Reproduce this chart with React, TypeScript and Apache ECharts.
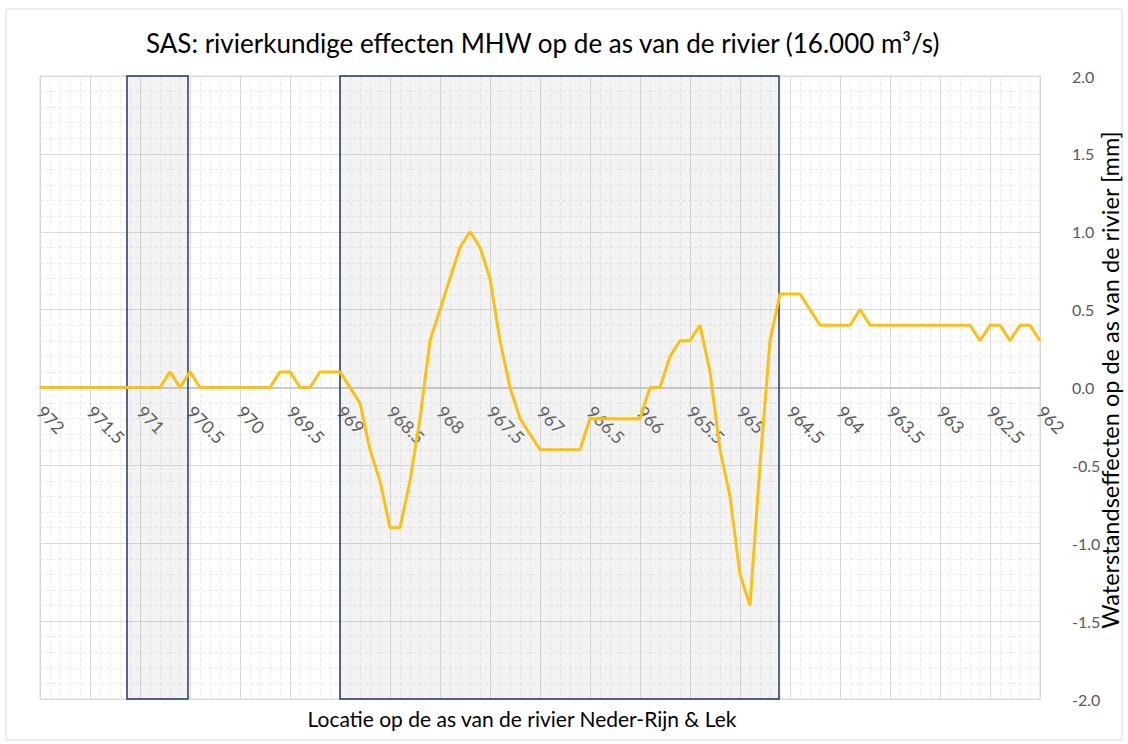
import React, { useEffect, useRef } from "react";
import * as echarts from "echarts";

const titleText = "SAS: rivierkundige effecten MHW op de as van de rivier (16.000 m\u00B3/s)";
const xAxisTitle = "Locatie op de as van de rivier Neder-Rijn & Lek";
const yAxisTitle = "Waterstandseffecten op de as van de rivier [mm]";

const km: number[] = [
  972.0, 971.9, 971.8, 971.7, 971.6, 971.5, 971.4, 971.3, 971.2, 971.1,
  971.0, 970.9, 970.8, 970.7, 970.6, 970.5, 970.4, 970.3, 970.2, 970.1,
  970.0, 969.9, 969.8, 969.7, 969.6, 969.5, 969.4, 969.3, 969.2, 969.1,
  969.0, 968.9, 968.8, 968.7, 968.6, 968.5, 968.4, 968.3, 968.2, 968.1,
  968.0, 967.9, 967.8, 967.7, 967.6, 967.5, 967.4, 967.3, 967.2, 967.1,
  967.0, 966.9, 966.8, 966.7, 966.6, 966.5, 966.4, 966.3, 966.2, 966.1,
  966.0, 965.9, 965.8, 965.7, 965.6, 965.5, 965.4, 965.3, 965.2, 965.1,
  965.0, 964.9, 964.8, 964.7, 964.6, 964.5, 964.4, 964.3, 964.2, 964.1,
  964.0, 963.9, 963.8, 963.7, 963.6, 963.5, 963.4, 963.3, 963.2, 963.1,
  963.0, 962.9, 962.8, 962.7, 962.6, 962.5, 962.4, 962.3, 962.2, 962.1,
  962.0,
];

const effectMm: number[] = [
  0, 0, 0, 0, 0, 0, 0, 0, 0, 0,
  0, 0, 0, 0.1, 0, 0.1, 0, 0, 0, 0,
  0, 0, 0, 0, 0.1, 0.1, 0, 0, 0.1, 0.1,
  0.1, 0.0, -0.1, -0.4, -0.6, -0.9, -0.9, -0.6, -0.2, 0.3,
  0.5, 0.7, 0.9, 1.0, 0.9, 0.7, 0.3, 0.0, -0.2, -0.3,
  -0.4, -0.4, -0.4, -0.4, -0.4, -0.2, -0.2, -0.2, -0.2, -0.2,
  -0.2, 0.0, 0.0, 0.2, 0.3, 0.3, 0.4, 0.1, -0.4, -0.7,
  -1.2, -1.4, -0.5, 0.3, 0.6, 0.6, 0.6, 0.5, 0.4, 0.4,
  0.4, 0.4, 0.5, 0.4, 0.4, 0.4, 0.4, 0.4, 0.4, 0.4,
  0.4, 0.4, 0.4, 0.4, 0.3, 0.4, 0.4, 0.3, 0.4, 0.4,
  0.3,
];

// highlighted river sections [from km, to km]
const sections: [number, number][] = [
  [971.13, 970.52],
  [969.0, 964.61],
];

export default function App() {
  const ref = useRef<HTMLDivElement>(null);
  useEffect(() => {
    if (!ref.current) return;
    const chart = echarts.init(ref.current, null, { renderer: "svg" });
    const font = "Lato, 'Open Sans', sans-serif";
    const option: any = {
      animation: false,
      backgroundColor: "#ffffff",
      title: {
        text: titleText,
        left: 141,
        top: 25,
        textStyle: { fontFamily: font, fontSize: 26, fontWeight: "normal", color: "#000000" },
      },
      grid: {
        left: 40,
        right: 88,
        top: 76,
        bottom: 45,
        show: true,
        borderColor: "#d9d9d9",
        borderWidth: 1,
        backgroundColor: "transparent",
        outerBoundsMode: "none",
        containLabel: false,
      },
      xAxis: {
        type: "value",
        min: 962,
        max: 972,
        interval: 0.5,
        inverse: true,
        offset: -311,
        axisLine: { show: true, onZero: false, lineStyle: { color: "#bfbfbf", width: 1.5 } },
        axisTick: { show: false },
        axisLabel: {
          rotate: -45,
          interval: 0,
          margin: 21,
          align: "left",
          verticalAlign: "middle",
          fontSize: 17.5,
          fontFamily: font,
          color: "#595959",
          showMinLabel: true,
          showMaxLabel: true,
          hideOverlap: false,
          formatter: (v: number) => String(v),
        },
        splitLine: { show: true, lineStyle: { color: "#d9d9d9", width: 1 } },
        minorTick: { show: false, splitNumber: 5 },
        minorSplitLine: { show: true, lineStyle: { color: "#ececec", type: "dashed", width: 1 } },
      },
      yAxis: {
        type: "value",
        position: "right",
        min: -2,
        max: 2,
        interval: 0.5,
        axisLine: { show: false },
        axisTick: { show: false },
        axisLabel: {
          margin: 32,
          fontSize: 16,
          fontFamily: font,
          color: "#595959",
          formatter: (v: number) => v.toFixed(1),
        },
        splitLine: { show: true, lineStyle: { color: "#d9d9d9", width: 1 } },
        minorTick: { show: false, splitNumber: 5 },
        minorSplitLine: { show: true, lineStyle: { color: "#ececec", type: "dashed", width: 1 } },
      },
      series: [
        {
          type: "line",
          data: km.map((k, i) => [k, effectMm[i]]),
          symbol: "none",
          lineStyle: { color: "#FCC010", width: 3 },
          z: 5,
          markArea: {
            silent: true,
            itemStyle: {
              color: "rgba(160,160,160,0.13)",
              borderColor: "#1f3864",
              borderWidth: 1.5,
            },
            data: sections.map(([a, b]) => [{ xAxis: a, yAxis: 2 }, { xAxis: b, yAxis: -2 }]),
          },
        },
      ],
      graphic: [
        {
          type: "rect",
          shape: { x: 6, y: 9, width: 1116, height: 731 },
          style: { fill: "none", stroke: "#d9d9d9", lineWidth: 1 },
          silent: true,
        },
        {
          type: "text",
          x: 522,
          y: 718,
          style: {
            text: xAxisTitle,
            fontFamily: font,
            fontSize: 21,
            fill: "#000000",
            textAlign: "center",
            textVerticalAlign: "middle",
          },
        },
        {
          type: "text",
          x: 1110,
          y: 380,
          rotation: Math.PI / 2,
          style: {
            text: yAxisTitle,
            fontFamily: font,
            fontSize: 23.5,
            fill: "#000000",
            textAlign: "center",
            textVerticalAlign: "middle",
          },
        },
      ],
    };
    chart.setOption(option);
    return () => chart.dispose();
  }, []);
  return (
    <div
      ref={ref}
      style={{ position: "absolute", left: 0, top: 0, width: 1128, height: 744 }}
    />
  );
}
